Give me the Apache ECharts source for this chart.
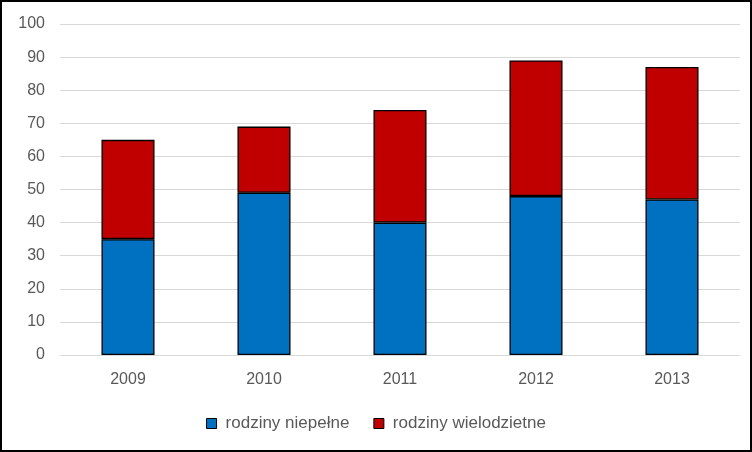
<!DOCTYPE html>
<html><head><meta charset="utf-8">
<script src="https://cdn.jsdelivr.net/npm/echarts@6/dist/echarts.min.js"></script>
<style>
html,body{margin:0;padding:0;background:#fff;}
#c{width:752px;height:452px;box-sizing:border-box;border:2px solid #000;}
</style></head>
<body><div id="c"></div>
<script>
const categories = ['2009','2010','2011','2012','2013'];
const niepelne = [35,49,40,48,47];
const wielodzietne = [30,20,34,41,40];
const seriesNames = ['rodziny niepełne','rodziny wielodzietne'];

const chart = echarts.init(document.getElementById('c'), null, {renderer:'canvas'});
const font = 'Liberation Sans, Arial, sans-serif';
chart.setOption({
  animation:false,
  grid:{left:58,right:10,top:22,bottom:95,containLabel:false},
  legend:{top:408,left:'center',itemWidth:10,itemHeight:10,itemGap:24,
    textStyle:{color:'#595959',fontSize:17,fontFamily:font,padding:[0,0,0,4]},
    data:seriesNames.map(n=>({name:n,icon:'rect',itemStyle:{borderColor:'#000',borderWidth:1}}))},
  xAxis:{type:'category',data:categories,
    axisLine:{lineStyle:{color:'#d9d9d9'}},axisTick:{show:false},
    axisLabel:{color:'#595959',fontSize:16,fontFamily:font,margin:17}},
  yAxis:{type:'value',min:0,max:100,interval:10,
    axisLine:{show:false},axisTick:{show:false},
    splitLine:{lineStyle:{color:'#d9d9d9'}},
    axisLabel:{color:'#595959',fontSize:16,fontFamily:font,margin:15}},
  series:[
    {name:seriesNames[0],type:'bar',stack:'a',data:niepelne,barWidth:'39%',
     itemStyle:{color:'#0070c0',borderColor:'#000',borderWidth:1.3}},
    {name:seriesNames[1],type:'bar',stack:'a',data:wielodzietne,barWidth:'39%',
     itemStyle:{color:'#c00000',borderColor:'#000',borderWidth:1.3}}
  ]
});
</script></body></html>
